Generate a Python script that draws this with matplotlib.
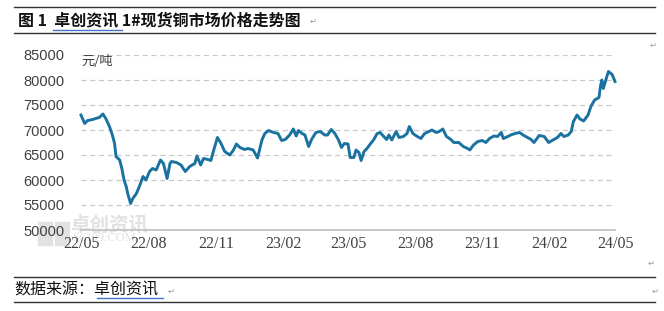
import matplotlib
matplotlib.use("Agg")
import matplotlib.pyplot as plt
import matplotlib.dates as mdates
from matplotlib.lines import Line2D
from matplotlib.patches import Rectangle
import pandas as pd

plt.rcParams['font.family'] = ['Noto Sans CJK SC', 'DejaVu Sans']

# spot copper price, yuan/ton
dates = [
    '2022-04-30', '2022-05-05', '2022-05-09', '2022-05-16', '2022-05-20', '2022-05-25',
    '2022-05-30', '2022-06-03', '2022-06-08', '2022-06-12', '2022-06-15', '2022-06-17',
    '2022-06-22', '2022-06-25', '2022-06-28', '2022-07-01', '2022-07-03', '2022-07-07',
    '2022-07-10', '2022-07-15', '2022-07-19', '2022-07-24', '2022-07-28', '2022-08-02',
    '2022-08-06', '2022-08-11', '2022-08-17', '2022-08-21', '2022-08-26', '2022-08-30',
    '2022-09-01', '2022-09-08', '2022-09-14', '2022-09-20', '2022-09-26', '2022-10-03',
    '2022-10-06', '2022-10-11', '2022-10-15', '2022-10-21', '2022-10-25', '2022-10-29',
    '2022-11-03', '2022-11-08', '2022-11-13', '2022-11-20', '2022-11-25', '2022-11-29',
    '2022-12-04', '2022-12-10', '2022-12-15', '2022-12-22', '2022-12-28', '2023-01-03',
    '2023-01-07', '2023-01-12', '2023-01-19', '2023-01-25', '2023-01-30', '2023-02-04',
    '2023-02-10', '2023-02-15', '2023-02-19', '2023-02-22', '2023-02-27', '2023-03-03',
    '2023-03-08', '2023-03-12', '2023-03-18', '2023-03-24', '2023-03-30', '2023-04-03',
    '2023-04-08', '2023-04-13', '2023-04-18', '2023-04-22', '2023-04-26', '2023-05-01',
    '2023-05-04', '2023-05-09', '2023-05-12', '2023-05-16', '2023-05-19', '2023-05-23',
    '2023-05-27', '2023-06-01', '2023-06-05', '2023-06-10', '2023-06-14', '2023-06-19',
    '2023-06-23', '2023-06-26', '2023-06-30', '2023-07-06', '2023-07-10', '2023-07-16',
    '2023-07-21', '2023-07-24', '2023-07-29', '2023-08-04', '2023-08-09', '2023-08-14',
    '2023-08-20', '2023-08-24', '2023-08-30', '2023-09-03', '2023-09-08', '2023-09-13',
    '2023-09-19', '2023-09-23', '2023-09-30', '2023-10-06', '2023-10-12', '2023-10-15',
    '2023-10-20', '2023-10-26', '2023-11-01', '2023-11-06', '2023-11-11', '2023-11-17',
    '2023-11-22', '2023-11-27', '2023-11-30', '2023-12-06', '2023-12-10', '2023-12-16',
    '2023-12-22', '2023-12-27', '2024-01-02', '2024-01-07', '2024-01-11', '2024-01-18',
    '2024-01-25', '2024-01-31', '2024-02-06', '2024-02-12', '2024-02-17', '2024-02-21',
    '2024-02-27', '2024-03-02', '2024-03-05', '2024-03-10', '2024-03-14', '2024-03-19',
    '2024-03-25', '2024-03-29', '2024-04-03', '2024-04-09', '2024-04-11', '2024-04-13',
    '2024-04-15', '2024-04-19', '2024-04-22', '2024-04-27', '2024-05-01',
]
prices = [
    73000, 71300, 71900, 72100, 72300, 72500,
    73200, 72300, 70700, 69000, 67300, 64700,
    64000, 62300, 60000, 58700, 57300, 55300,
    56300, 57300, 58700, 60700, 60000, 61700,
    62300, 62000, 64000, 63300, 60300, 63300,
    63700, 63500, 63000, 61700, 62700, 63300,
    64800, 63000, 64300, 64100, 63900, 66000,
    68500, 67300, 65700, 65000, 66000, 67200,
    66500, 66100, 66300, 66000, 64400, 68000,
    69300, 69900, 69500, 69300, 67900, 68100,
    69000, 70200, 68800, 69900, 69300, 69000,
    66700, 68100, 69500, 69700, 69000, 69000,
    70100, 69300, 68000, 66500, 67300, 67200,
    64500, 64500, 66000, 65500, 63900, 65700,
    66300, 67300, 68000, 69300, 69500, 68700,
    68100, 69000, 68000, 69700, 68500, 68700,
    69300, 70700, 69300, 68700, 68300, 69300,
    69700, 70000, 69500, 69700, 70200, 68700,
    68100, 67500, 67500, 66700, 66300, 66000,
    67000, 67700, 67900, 67500, 68300, 68800,
    68700, 69500, 68300, 68700, 69000, 69300,
    69500, 69000, 68500, 68100, 67500, 68900,
    68700, 67500, 68000, 68500, 69300, 68700,
    69000, 69700, 71700, 73000, 72200, 71800,
    73000, 74700, 76000, 76500, 78700, 80000,
    78300, 80300, 81700, 81100, 79700,
]
yticks = [50000, 55000, 60000, 65000, 70000, 75000, 80000, 85000]
xtick_months = ['2022-05-01', '2022-08-01', '2022-11-01', '2023-02-01', '2023-05-01',
                '2023-08-01', '2023-11-01', '2024-02-01', '2024-05-01']

W, H = 664, 311
fig = plt.figure(figsize=(W / 100, H / 100), dpi=100)


def fx(px):
    return px / W


def fy(py):
    return 1 - py / H


ax = fig.add_axes([fx(81), fy(230), fx(615) - fx(81), fy(55) - fy(230)])
ax.set_zorder(2)

x = pd.to_datetime(dates)
ax.plot(x, prices, color='#1a72a0', lw=2.1, solid_joinstyle='round', zorder=3, clip_on=False)

ax.set_xlim(x[0], x[-1])
ax.set_ylim(50000, 85000)
ax.set_yticks(yticks)
ax.set_yticklabels([str(v) for v in yticks], family='Liberation Sans', fontsize=10.5, color='#404040')
ax.set_xticks(pd.to_datetime(xtick_months))
ax.xaxis.set_major_formatter(mdates.DateFormatter('%y/%m'))
for lab in ax.get_xticklabels():
    lab.set_family('Liberation Serif')
    lab.set_fontsize(11.5)
    lab.set_color('#404040')
ax.tick_params(axis='y', length=0, pad=12)
ax.tick_params(axis='x', length=0, pad=4)

for s in ['top', 'right', 'left']:
    ax.spines[s].set_visible(False)
ax.spines['bottom'].set_color('#bfbfbf')
ax.spines['bottom'].set_linewidth(1.2)
ax.yaxis.grid(True, ls=(0, (4, 3)), color='#c8c8c8', lw=0.9)
ax.set_axisbelow(True)
ax.patch.set_alpha(0)

ax.text(0.0, 1.0, '元/吨', transform=ax.transAxes, ha='left', va='top',
        fontsize=9.5, color='#404040')

# watermark, behind the axes
wm = '#e2e2e2'
fig.patches.append(Rectangle((fx(38), fy(245)), fx(14), fy(222) - fy(245),
                             transform=fig.transFigure, color=wm, zorder=0))
fig.patches.append(Rectangle((fx(55), fy(245)), fx(14), fy(222) - fy(245),
                             transform=fig.transFigure, color=wm, zorder=0))
fig.text(fx(70), fy(225), '卓创资讯', fontsize=14, fontweight='bold', color=wm,
         ha='left', va='center', zorder=0)
fig.text(fx(72), fy(238), 'SCI99.COM', family='Liberation Serif', fontsize=9,
         color=wm, ha='left', va='center', zorder=0)

# document frame lines
for py in [7, 33, 277, 302]:
    fig.add_artist(Line2D([fx(14), fx(655)], [fy(py), fy(py)], color='#333333', lw=1.0))
fig.add_artist(Line2D([fx(53), fx(122)], [fy(30), fy(30)], color='#4472c4', lw=1.0))
fig.add_artist(Line2D([fx(97), fx(163)], [fy(298), fy(298)], color='#4472c4', lw=1.0))

fig.text(fx(18), fy(20), '图 1  卓创资讯 1#现货铜市场价格走势图', fontsize=11.5,
         fontweight='bold', color='#111111', ha='left', va='center')
fig.text(fx(14), fy(290), '数据来源：卓创资讯', fontsize=11.5, color='#111111',
         ha='left', va='center')

# paragraph marks
for px, py in [(310, 21), (650, 45), (648, 263), (168, 291), (652, 291)]:
    fig.text(fx(px), fy(py), '\u21b5', family='DejaVu Sans', fontsize=6,
             color='#999999', ha='left', va='center')

fig.savefig('out.png', dpi=100)
